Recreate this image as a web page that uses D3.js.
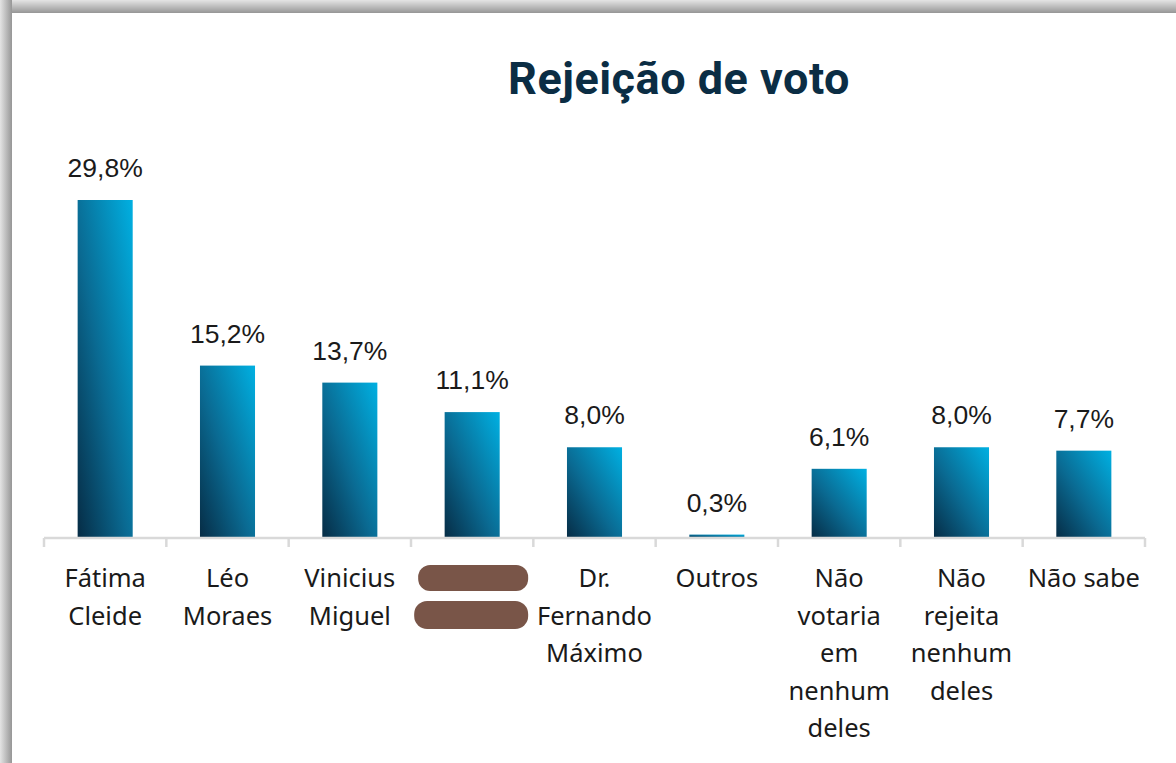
<!DOCTYPE html>
<html>
<head>
<meta charset="utf-8">
<script src="https://cdn.jsdelivr.net/npm/d3@7"></script>
<style>
  html, body { margin: 0; padding: 0; background: #fff; }
  svg { display: block; }
</style>
</head>
<body>
<div id="chart"></div>
<script>
// dados do gráfico
const categories = [
    "Fátima\nCleide",
    "Léo\nMoraes",
    "Vinicius\nMiguel",
    "(oculto)",
    "Dr.\nFernando\nMáximo",
    "Outros",
    "Não\nvotaria\nem\nnenhum\ndeles",
    "Não\nrejeita\nnenhum\ndeles",
    "Não sabe"
];
const values = [29.8, 15.2, 13.7, 11.1, 8.0, 0.3, 6.1, 8.0, 7.7];
const valueLabels = ["29,8%", "15,2%", "13,7%", "11,1%", "8,0%", "0,3%", "6,1%", "8,0%", "7,7%"];
const hiddenIndex = 3; // nome rasurado na imagem

const W = 1176, H = 763;
const baseY = 538;

const svg = d3.select("#chart")
    .append("svg")
    .attr("width", W)
    .attr("height", H);

const defs = svg.append("defs");

// gradiente das barras
const grad = defs.append("linearGradient")
    .attr("id", "barGrad")
    .attr("x1", 0).attr("y1", 1)
    .attr("x2", 1).attr("y2", 0);
grad.append("stop").attr("offset", "0%").attr("stop-color", "#062c45");
grad.append("stop").attr("offset", "45%").attr("stop-color", "#0a6a92");
grad.append("stop").attr("offset", "100%").attr("stop-color", "#00b0e2");

// moldura (sombra cinza no topo e à esquerda)
const topGrad = defs.append("linearGradient")
    .attr("id", "topGrad").attr("x1", 0).attr("y1", 0).attr("x2", 0).attr("y2", 1);
topGrad.append("stop").attr("offset", "0%").attr("stop-color", "#e4e4e4");
topGrad.append("stop").attr("offset", "100%").attr("stop-color", "#969696");
const leftGrad = defs.append("linearGradient")
    .attr("id", "leftGrad").attr("x1", 0).attr("y1", 0).attr("x2", 1).attr("y2", 0);
leftGrad.append("stop").attr("offset", "0%").attr("stop-color", "#e4e4e4");
leftGrad.append("stop").attr("offset", "100%").attr("stop-color", "#969696");

svg.append("rect").attr("x", 0).attr("y", 0).attr("width", W).attr("height", 13)
    .attr("fill", "url(#topGrad)");
svg.append("rect").attr("x", 0).attr("y", 0).attr("width", 12).attr("height", H)
    .attr("fill", "url(#leftGrad)");

// título
svg.append("text")
    .attr("x", 679)
    .attr("y", 94)
    .attr("text-anchor", "middle")
    .attr("font-family", "Roboto, 'Noto Sans', sans-serif")
    .attr("font-weight", "bold")
    .attr("font-size", 45)
    .attr("letter-spacing", 0.5)
    .attr("fill", "#0b2d44")
    .text("Rejeição de voto");

// escalas
const x = d3.scaleBand()
    .domain(categories)
    .range([44, 1145])
    .paddingInner(0.55)
    .paddingOuter(0.275);

const y = d3.scaleLinear()
    .domain([0, 29.8])
    .range([baseY, 200]);

// barras
svg.selectAll("rect.bar")
    .data(values)
    .enter()
    .append("rect")
    .attr("class", "bar")
    .attr("x", (d, i) => x(categories[i]))
    .attr("y", d => y(d))
    .attr("width", x.bandwidth())
    .attr("height", d => baseY - y(d))
    .attr("fill", "url(#barGrad)");

// eixo
const step = x.step();
const axis = svg.append("g").attr("stroke", "#d9d9d9").attr("stroke-width", 2.5);
axis.append("line")
    .attr("x1", 44).attr("x2", 1145)
    .attr("y1", baseY).attr("y2", baseY);
d3.range(categories.length + 1).forEach(k => {
    const tx = 44 + k * step;
    axis.append("line")
        .attr("x1", tx).attr("x2", tx)
        .attr("y1", baseY).attr("y2", baseY + 9);
});

// rótulos de valor
svg.selectAll("text.val")
    .data(values)
    .enter()
    .append("text")
    .attr("class", "val")
    .attr("x", (d, i) => x(categories[i]) + x.bandwidth() / 2)
    .attr("y", d => y(d) - 23)
    .attr("text-anchor", "middle")
    .attr("font-family", "'Liberation Sans', Arial, sans-serif")
    .attr("font-size", 26.5)
    .attr("fill", "#1a1a1a")
    .text((d, i) => valueLabels[i]);

// rótulos de categoria
categories.forEach((c, i) => {
    const cx = x(c) + x.bandwidth() / 2;
    if (i === hiddenIndex) {
        // rasura marrom sobre o nome
        const g = svg.append("g").attr("fill", "#795548");
        g.append("rect").attr("x", cx - 54).attr("y", 565)
            .attr("width", 110).attr("height", 26).attr("rx", 12);
        g.append("rect").attr("x", cx - 58).attr("y", 601)
            .attr("width", 114).attr("height", 28).attr("rx", 13);
        return;
    }
    const t = svg.append("text")
        .attr("text-anchor", "middle")
        .attr("font-family", "'Noto Sans', 'Open Sans', sans-serif")
        .attr("font-size", 25.5)
        .attr("fill", "#1a1a1a");
    c.split("\n").forEach((line, j) => {
        t.append("tspan")
            .attr("x", cx)
            .attr("y", 587 + j * 37.5)
            .text(line);
    });
});
</script>
</body>
</html>
